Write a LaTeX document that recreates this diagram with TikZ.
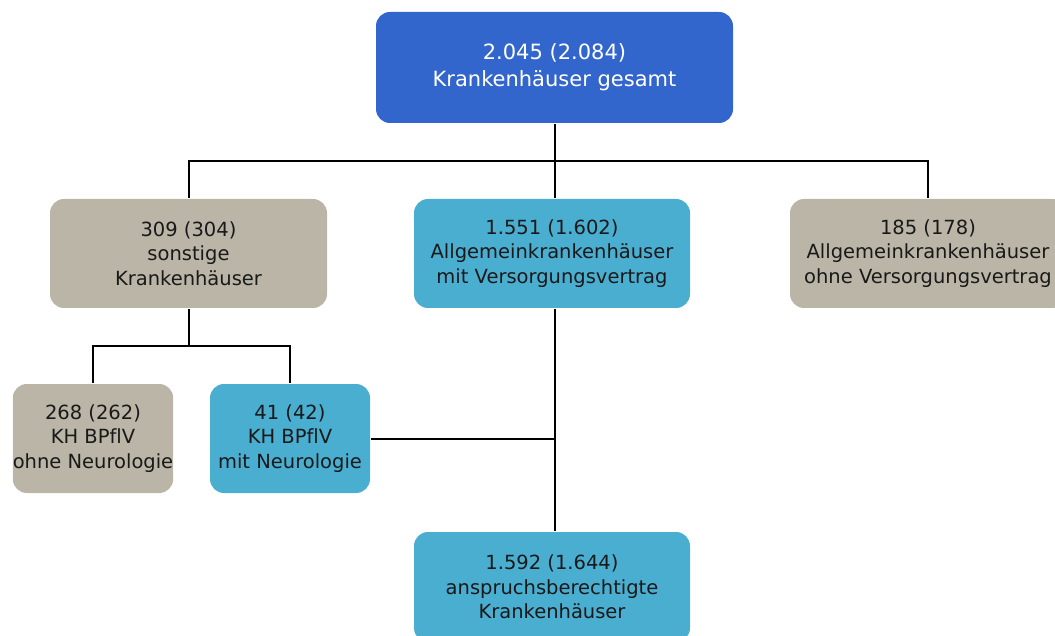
\documentclass[tikz,border=0pt]{standalone}
\usepackage{fontspec}
\setmainfont[Ligatures=NoCommon]{DejaVu Sans}
\usepackage{tikz}
\usetikzlibrary{calc}
\definecolor{khblue}{RGB}{51,102,204}
\definecolor{khcyan}{RGB}{74,174,208}
\definecolor{khgray}{RGB}{186,181,166}
\tikzset{every picture/.style={line width=2pt}}
\tikzset{
  khbox/.style={rounded corners=14pt, inner sep=0pt, align=center,
    font=\fontsize{19.5}{24.5}\selectfont, text=black!90},
  khline/.style={draw=black, line width=2pt}
}

\begin{document}
\begin{tikzpicture}[x=1pt,y=1pt,yscale=-1,xscale=1]
\useasboundingbox (0,0) rectangle (1055,636);
\begin{scope}
\clip (0,0) rectangle (1055,636);

% Top Box
\node (gesamt) [khbox, fill=khblue, text=white, font=\fontsize{21}{27}\selectfont, minimum width=357pt, minimum height=111pt] at (554.5,67.5) {2.045 (2.084)\\Krankenhäuser gesamt};

% Second row
\node (sonst) [khbox, fill=khgray, minimum width=277pt, minimum height=109pt] at (188.5,253.5) {309 (304)\\sonstige\\Krankenhäuser};
\node (allgmit) [khbox, fill=khcyan, minimum width=276pt, minimum height=109pt] at (552,253.5) {1.551 (1.602)\\Allgemeinkrankenhäuser\\mit Versorgungsvertrag};
\node (allgohne) [khbox, fill=khgray, minimum width=276pt, minimum height=109pt] at (928,253.5) {185 (178)\\Allgemeinkrankenhäuser\\ohne Versorgungsvertrag};

% Third row
\node (bpfohne) [khbox, fill=khgray, minimum width=160pt, minimum height=109pt] at (93,438.5) {268 (262)\\KH BPflV\\ohne Neurologie};
\node (bpfmit) [khbox, fill=khcyan, minimum width=160pt, minimum height=109pt] at (290,438.5) {41 (42)\\KH BPflV\\mit Neurologie};

% Bottom Box
\node (anspr) [khbox, fill=khcyan, minimum width=276pt, minimum height=110pt] at (552,587) {1.592 (1.644)\\anspruchsberechtigte\\Krankenhäuser};

% Connectors
\coordinate (bus) at ($(gesamt.south)+(0,37)$);
\draw [khline] (gesamt.south) -- (gesamt.south |- allgmit.north);
\draw [khline] (sonst.north) |- (bus) -| (allgohne.north);
\coordinate (split) at ($(sonst.south)+(0,37)$);
\draw [khline] (sonst.south) -- (split);
\draw [khline] (bpfohne.north) |- (split) -| (bpfmit.north);
\draw [khline] (allgmit.south -| gesamt.south) -- (anspr.north -| gesamt.south);
\draw [khline] (bpfmit.east) -- (bpfmit.east -| gesamt.south);

\end{scope}
\end{tikzpicture}
\end{document}
